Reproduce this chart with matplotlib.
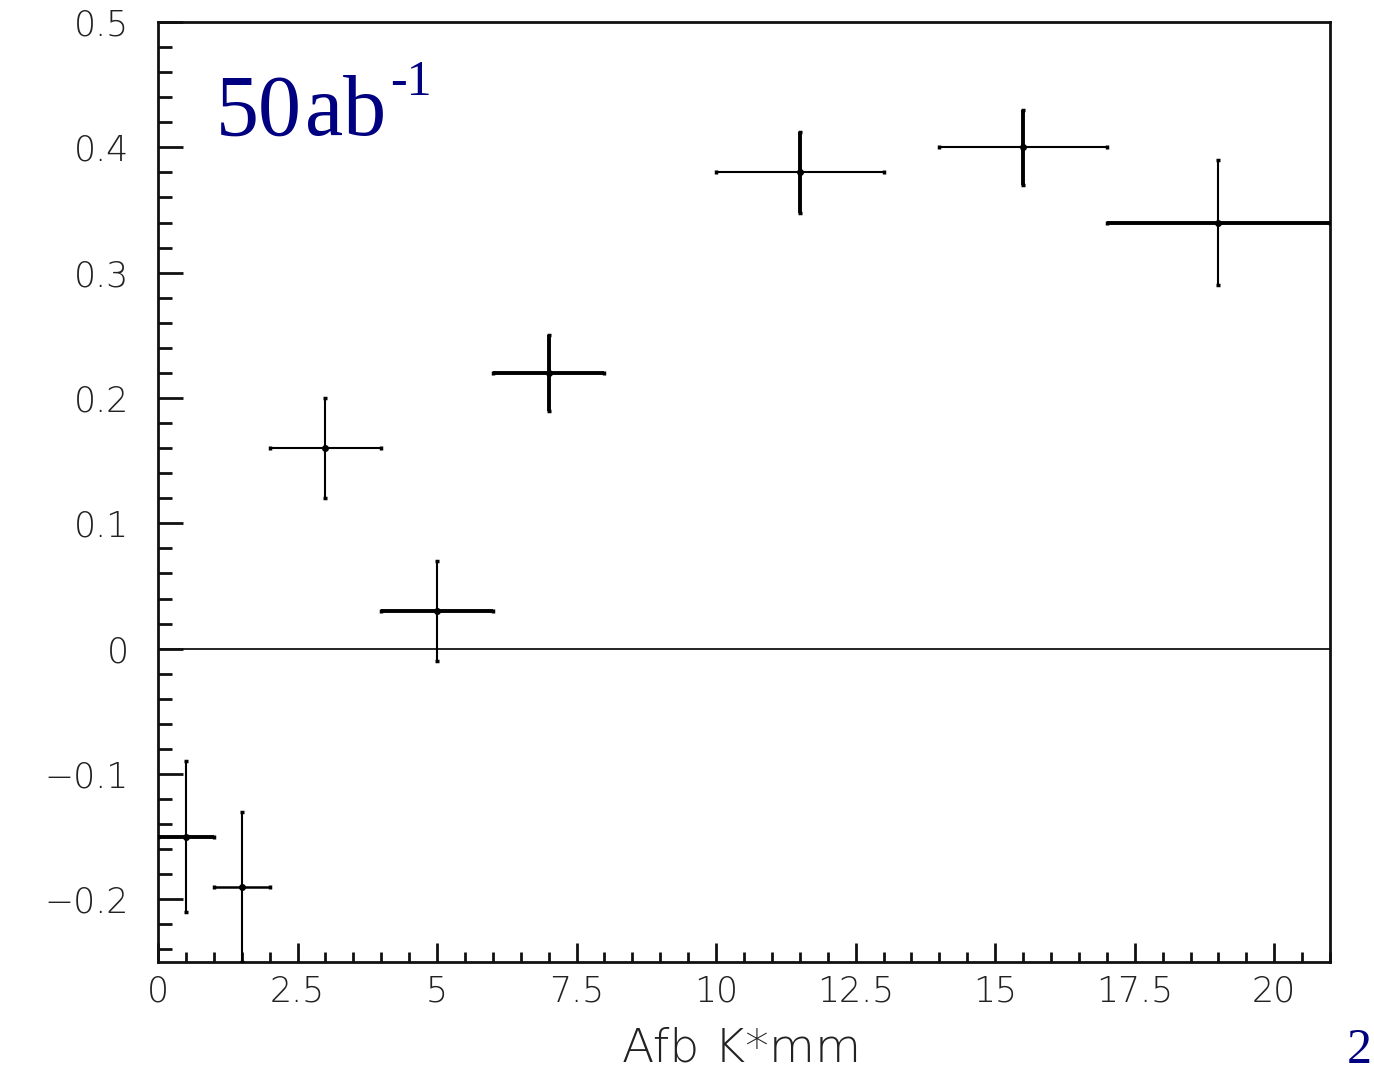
import matplotlib
matplotlib.use("Agg")
import matplotlib.pyplot as plt
from matplotlib.ticker import MultipleLocator, FixedLocator

# Data
x_center = [0.5, 1.5, 3.0, 5.0, 7.0, 11.5, 15.5, 19.0]
x_low = [0.0, 1.0, 2.0, 4.0, 6.0, 10.0, 14.0, 17.0]
x_high = [1.0, 2.0, 4.0, 6.0, 8.0, 13.0, 17.0, 21.0]
y_value = [-0.15, -0.19, 0.16, 0.03, 0.22, 0.38, 0.40, 0.34]
y_err = [0.06, 0.06, 0.04, 0.04, 0.03, 0.032, 0.03, 0.05]

x_ticks = [0, 2.5, 5, 7.5, 10, 12.5, 15, 17.5, 20]
x_ticklabels = ["0", "2.5", "5", "7.5", "10", "12.5", "15", "17.5", "20"]
y_ticks = [-0.2, -0.1, 0, 0.1, 0.2, 0.3, 0.4, 0.5]
y_ticklabels = ["\u22120.2", "\u22120.1", "0", "0.1", "0.2", "0.3", "0.4", "0.5"]

# Styles (line widths per bar, horizontal / vertical)
h_lw = [2.8, 1.8, 1.5, 2.8, 2.8, 1.5, 1.5, 2.8]
v_lw = [1.5, 1.5, 1.5, 1.5, 2.8, 2.8, 2.8, 1.5]

fig = plt.figure(figsize=(13.74, 10.74), dpi=100)
ax = fig.add_axes([0.115, 0.1043, 0.853, 0.8752])

ax.set_xlim(0, 21)
ax.set_ylim(-0.25, 0.5)

ax.axhline(0, color="black", lw=1.2, zorder=1)

for i in range(len(x_center)):
    xl = x_center[i] - x_low[i]
    xh = x_high[i] - x_center[i]
    ax.errorbar([x_center[i]], [y_value[i]], xerr=[[xl], [xh]], fmt="none",
                ecolor="black", elinewidth=h_lw[i], capsize=1.5, capthick=2.5,
                clip_on=True, zorder=3)
    ax.errorbar([x_center[i]], [y_value[i]], yerr=[[y_err[i]], [y_err[i]]], fmt="none",
                ecolor="black", elinewidth=v_lw[i], capsize=1.5, capthick=2.5,
                clip_on=True, zorder=3)
    ax.plot([x_center[i]], [y_value[i]], "o", color="black", ms=4, zorder=4)

for s in ax.spines.values():
    s.set_linewidth(2.0)
    s.set_color("#111111")

ax.xaxis.set_major_locator(FixedLocator(x_ticks))
ax.xaxis.set_minor_locator(MultipleLocator(0.5))
ax.yaxis.set_major_locator(FixedLocator(y_ticks))
ax.yaxis.set_minor_locator(MultipleLocator(0.02))
ax.set_xticklabels(x_ticklabels)
ax.set_yticklabels(y_ticklabels)

ax.tick_params(axis="both", which="both", direction="in", width=2.0, color="#111111",
               labelsize=25, labelcolor="#222222")
ax.tick_params(axis="x", which="major", length=14, pad=9)
ax.tick_params(axis="x", which="minor", length=7)
ax.tick_params(axis="y", which="major", length=18, pad=21)
ax.tick_params(axis="y", which="minor", length=10)
ax.tick_params(top=False, right=False, which="both")
for lab in ax.get_xticklabels() + ax.get_yticklabels():
    lab.set_fontfamily("DejaVu Sans")
    lab.set_fontweight("light")

fig.text(0.54, 0.003, "Afb K*mm", fontsize=34, color="#222222", fontweight="light",
         family="DejaVu Sans", ha="center", va="bottom")

ax.text(0.0495, 0.880, "50", transform=ax.transAxes, fontsize=62,
        color="#000080", family="Liberation Serif", va="baseline", ha="left")
ax.text(0.1254, 0.880, "ab", transform=ax.transAxes, fontsize=62,
        color="#000080", family="Liberation Serif", va="baseline", ha="left")
ax.text(0.198, 0.922, "-1", transform=ax.transAxes, fontsize=36,
        color="#000080", family="Liberation Serif", va="baseline", ha="left")

fig.text(0.998, 0.022, "2", fontsize=36, color="#000080", family="Liberation Serif",
         ha="right", va="center")

fig.savefig("out.png", dpi=100)
